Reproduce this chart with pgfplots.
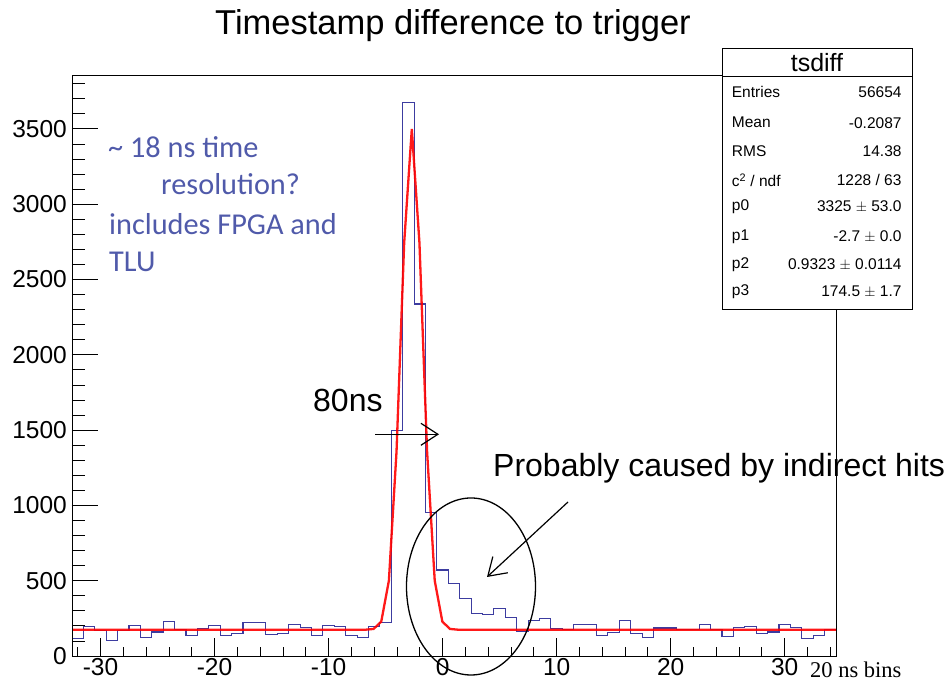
\documentclass[border=0pt]{standalone}
\usepackage{fontspec}
\setmainfont{Liberation Sans}
\newfontfamily\carlito{Carlito}
\newfontfamily\lserif{Liberation Serif}
\usepackage{pgfplots}
\pgfplotsset{compat=1.18}
\usetikzlibrary{arrows.meta}
\definecolor{histblue}{RGB}{60,60,160}
\definecolor{annblue}{RGB}{80,90,170}
\begin{document}
\begin{tikzpicture}
\useasboundingbox (0pt,0pt) rectangle (946pt,684pt);
\pgfplotsset{common/.style={
  at={(72pt,28pt)}, anchor=south west, scale only axis,
  width=764pt, height=581pt,
  xmin=-32.5, xmax=34.5, ymin=0, ymax=3858,
  axis line style={line width=0.9pt},
  tick style={line width=0.8pt, black},
  tick align=inside, xtick pos=bottom, ytick pos=left,
  scaled y ticks=false, scaled x ticks=false,
  /pgf/number format/1000 sep={},
  /pgf/number format/assume math mode=true,
  tick label style={font=\fontsize{24.5}{28}\selectfont},
}}
\begin{axis}[common,
  xtick={-30,-20,...,30}, minor xtick={-32,-30,...,34}, ytick=\empty,
  major tick length=18pt, minor tick length=9pt,
  xticklabel style={inner sep=1pt, yshift=-1pt}]
\addplot[histblue, line width=1.1pt, const plot mark left] coordinates {
(-32.5,114) (-31.5,197) (-30.5,170) (-29.5,103) (-28.5,170) (-27.5,204) (-26.5,121) (-25.5,159)
(-24.5,230) (-23.5,175) (-22.5,139) (-21.5,184) (-20.5,204) (-19.5,134) (-18.5,150) (-17.5,224)
(-16.5,224) (-15.5,141) (-14.5,150) (-13.5,212) (-12.5,188) (-11.5,134) (-10.5,204) (-9.5,197)
(-8.5,134) (-7.5,125) (-6.5,197) (-5.5,222) (-4.5,1500) (-3.5,3674) (-2.5,2337) (-1.5,950)
(-0.5,571) (0.5,480) (1.5,382) (2.5,284) (3.5,273) (4.5,313) (5.5,258) (6.5,163)
(7.5,234) (8.5,251) (9.5,184) (10.5,175) (11.5,212) (12.5,212) (13.5,139) (14.5,157)
(15.5,237) (16.5,148) (17.5,123) (18.5,186) (19.5,186) (20.5,175) (21.5,175) (22.5,212)
(23.5,175) (24.5,132) (25.5,188) (26.5,197) (27.5,150) (28.5,159) (29.5,212) (30.5,188)
(31.5,114) (32.5,136) (33.5,175) (34.5,175)
};
\addplot[red, line width=2.3pt, opacity=0.9] coordinates {
(-32.5,174.5) (-6.72,174.8) (-6.05,179.7) (-5.38,228) (-4.71,500) (-4.04,1358) (-3.37,2743)
(-2.7,3499.5) (-2.03,2743) (-1.36,1358) (-0.69,500) (-0.02,228) (0.65,179.7) (1.32,174.8) (34.5,174.5)
};
\end{axis}
\begin{axis}[common,
  ytick={0,500,...,3500}, minor ytick={0,100,...,3800}, xtick=\empty,
  major tick length=26pt, minor tick length=13pt,
  yticklabel style={inner sep=1pt, xshift=-4pt}]
\addplot[draw=none] coordinates {(0,0)};
\end{axis}
% title
\node[anchor=base, font=\fontsize{34.5}{40}\selectfont] at (453pt,649pt) {Timestamp difference to trigger};
% x label
\node[anchor=base west, font=\lserif\fontsize{22.5}{26}\selectfont, inner sep=0pt] at (810pt,6pt) {20 ns bins};
% blue annotation
\begin{scope}[every node/.style={anchor=base west, inner sep=0pt, text=annblue, font=\carlito\fontsize{30.3}{36}\selectfont}]
\node at (108pt,526.7pt) {\textasciitilde{} 18 ns time};
\node at (161pt,489pt) {resolution?};
\node at (109pt,449.7pt) {includes FPGA and};
\node at (109pt,412.3pt) {TLU};
\end{scope}
% 80ns
\node[anchor=base west, inner sep=0pt, font=\fontsize{32}{36}\selectfont] at (313pt,272pt) {80ns};
\draw[line width=1.2pt, -{Straight Barb[length=17pt,width=22pt]}] (375pt,249.7pt) -- (439pt,249.7pt);
% indirect hits
\node[anchor=base west, inner sep=0pt, font=\fontsize{32}{36}\selectfont] at (493pt,207pt) {Probably caused by indirect hits};
\draw[line width=1.2pt, -{Straight Barb[length=17pt,width=22pt]}] (568pt,182pt) -- (487pt,107pt);
\draw[line width=1.3pt] (471pt,97.5pt) ellipse [x radius=64.5pt, y radius=88.5pt];
% stats box
\draw[line width=1pt, fill=white] (722pt,374pt) rectangle (912pt,635pt);
\draw[line width=1pt] (722pt,607.3pt) -- (912pt,607.3pt);
\node[font=\fontsize{25}{28}\selectfont] at (817pt,621.3pt) {tsdiff};
\begin{scope}[every node/.style={inner sep=0pt, font=\fontsize{15.5}{18}\selectfont}]
\node[anchor=west] at (731.7pt,591.7pt) {Entries};
\node[anchor=east] at (901.7pt,591.7pt) {56654};
\node[anchor=west] at (731.7pt,561.3pt) {Mean};
\node[anchor=east] at (901.7pt,561.3pt) {-0.2087};
\node[anchor=west] at (731.7pt,533.3pt) {RMS};
\node[anchor=east] at (901.7pt,533.3pt) {14.38};
\node[anchor=west] at (731.7pt,504pt) {c\textsuperscript{2} / ndf};
\node[anchor=east] at (901.7pt,504pt) {1228 / 63};
\node[anchor=west] at (731.7pt,477.3pt) {p0};
\node[anchor=east] at (901.7pt,477.3pt) {3325 $\pm$ 53.0};
\node[anchor=west] at (731.7pt,447.3pt) {p1};
\node[anchor=east] at (901.7pt,447.3pt) {-2.7 $\pm$ 0.0};
\node[anchor=west] at (731.7pt,419pt) {p2};
\node[anchor=east] at (901.7pt,419pt) {0.9323 $\pm$ 0.0114};
\node[anchor=west] at (731.7pt,392.3pt) {p3};
\node[anchor=east] at (901.7pt,392.3pt) {174.5 $\pm$ 1.7};
\end{scope}
\end{tikzpicture}
\end{document}
